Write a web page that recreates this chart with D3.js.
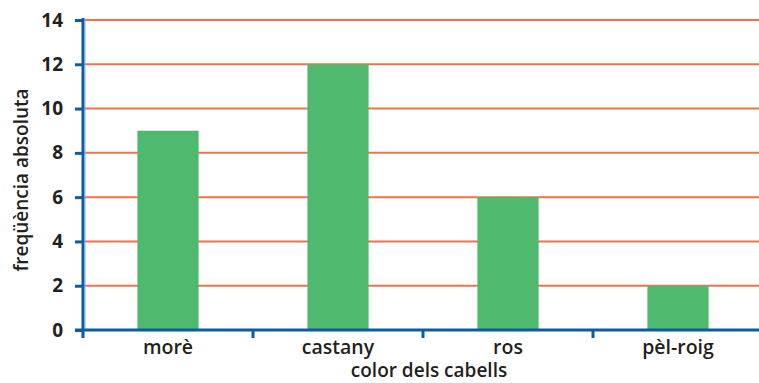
<!DOCTYPE html>
<html>
<head>
<meta charset="utf-8">
<script src="https://cdn.jsdelivr.net/npm/d3@7"></script>
<style>
  html, body { margin: 0; padding: 0; background: #fff; }
  svg { display: block; }
  text { font-family: "Open Sans", "Lato", sans-serif; fill: #231f20; }
</style>
</head>
<body>
<svg id="chart" width="759" height="383"></svg>
<script>
// Hair colour frequencies
const categories = ["morè", "castany", "ros", "pèl-roig"];
const frequencies = [9, 12, 6, 2];
const yTicks = [0, 2, 4, 6, 8, 10, 12, 14];
const xTitle = "color dels cabells";
const yTitle = "freqüència absoluta";

(function draw() {
  const svg = d3.select("#chart");
  const plotLeft = 83, plotRight = 763, plotTop = 20, plotBottom = 330;

  const x = d3.scaleBand().domain(categories).range([plotLeft, plotRight]);
  const y = d3.scaleLinear().domain([0, 14]).range([plotBottom, plotTop]);

  const axisBlue = "#0c5ca5";
  const gridOrange = "#f0714f";
  const barGreen = "#4fb96e";

  // horizontal grid lines
  svg.append("g").selectAll("line")
    .data(yTicks.filter(d => d > 0))
    .join("line")
    .attr("x1", plotLeft).attr("x2", 759)
    .attr("y1", d => y(d)).attr("y2", d => y(d))
    .attr("stroke", gridOrange).attr("stroke-width", 2);

  // bars
  const barW = x.bandwidth() * 0.36;
  svg.append("g").selectAll("rect")
    .data(categories.map((c, i) => ({ c, v: frequencies[i] })))
    .join("rect")
    .attr("x", d => x(d.c) + (x.bandwidth() - barW) / 2)
    .attr("width", barW)
    .attr("y", d => y(d.v))
    .attr("height", d => y(0) - y(d.v))
    .attr("fill", barGreen);

  // y axis
  const yAxis = svg.append("g").attr("transform", `translate(${plotLeft},0)`)
    .call(d3.axisLeft(y).tickValues(yTicks).tickSize(8).tickPadding(12));
  yAxis.select(".domain").remove();
  yAxis.selectAll(".tick line").attr("stroke", axisBlue).attr("stroke-width", 3);
  yAxis.selectAll(".tick text")
    .attr("font-size", 19).attr("font-weight", 700)
    .style("font-family", "'Open Sans', sans-serif").attr("fill", "#231f20");
  svg.append("line")
    .attr("x1", plotLeft).attr("x2", plotLeft).attr("y1", plotTop - 2).attr("y2", plotBottom + 8)
    .attr("stroke", axisBlue).attr("stroke-width", 3);
  svg.append("line")
    .attr("x1", plotLeft + 2).attr("x2", plotLeft + 2).attr("y1", plotTop - 2).attr("y2", plotBottom)
    .attr("stroke", "#7fb0dc").attr("stroke-width", 1);

  // x axis
  svg.append("line")
    .attr("x1", plotLeft - 8).attr("x2", 759).attr("y1", plotBottom).attr("y2", plotBottom)
    .attr("stroke", axisBlue).attr("stroke-width", 3);
  svg.append("g").selectAll("line")
    .data(categories.slice(1))
    .join("line")
    .attr("x1", d => x(d)).attr("x2", d => x(d))
    .attr("y1", plotBottom).attr("y2", plotBottom + 8)
    .attr("stroke", axisBlue).attr("stroke-width", 3);
  svg.append("g").selectAll("text")
    .data(categories)
    .join("text")
    .attr("x", d => x(d) + x.bandwidth() / 2)
    .attr("y", 354)
    .attr("text-anchor", "middle")
    .attr("font-size", 19.5).attr("font-weight", 600)
    .text(d => d);

  // axis titles
  svg.append("text")
    .attr("x", 429).attr("y", 377)
    .attr("text-anchor", "middle")
    .attr("font-size", 19).attr("font-weight", 600)
    .text(xTitle);
  svg.append("text")
    .attr("transform", `translate(28,180) rotate(-90)`)
    .attr("text-anchor", "middle")
    .attr("font-size", 19).attr("font-weight", 600)
    .text(yTitle);
})();
</script>
</body>
</html>
